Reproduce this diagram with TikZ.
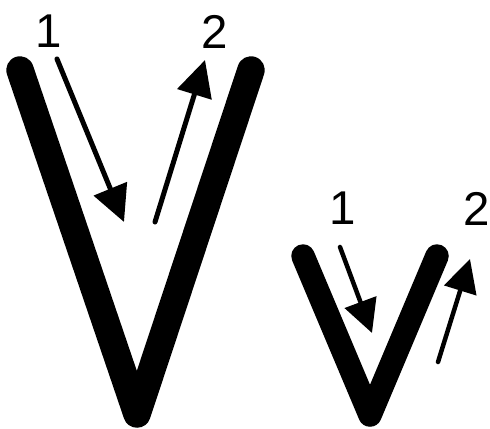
\documentclass[tikz,border=0pt]{standalone}
\usepackage{fontspec}
\setmainfont{Liberation Sans}
\usetikzlibrary{arrows.meta}

\begin{document}
\begin{tikzpicture}[
  x=0.02cm, y=-0.02cm,
  every node/.style={font=\fontsize{27}{27}\selectfont, inner sep=0pt},
  stroke/.style={line width=0.55cm, line cap=round, line join=round},
  small stroke/.style={line width=0.47cm, line cap=round, line join=round},
  motion/.style={line width=0.1cm, line cap=round, -{Triangle[length=0.72cm, width=0.7cm]}},
  small motion/.style={line width=0.09cm, line cap=round, -{Triangle[length=0.66cm, width=0.66cm]}}
]
\useasboundingbox (0,0) rectangle (490,429);

% big V
\draw[stroke] (20,70) -- (137,414) -- (251,70);
\node (big one) at (49,31) {1};
\node (big two) at (215,32) {2};
\coordinate (big down start) at (57,59);
\coordinate (big down end) at (124,222);
\coordinate (big up start) at (155,222);
\coordinate (big up end) at (205,60);
\draw[motion] (big down start) -- (big down end);
\draw[motion] (big up start) -- (big up end);

% small v
\draw[small stroke] (303,256) -- (370,415) -- (437,256);
\node (small one) at (343,208) {1};
\node (small two) at (477,209) {2};
\coordinate (small down start) at (340,247);
\coordinate (small down end) at (372,333);
\coordinate (small up start) at (438,362);
\coordinate (small up end) at (470,259);
\draw[small motion] (small down start) -- (small down end);
\draw[small motion] (small up start) -- (small up end);
\end{tikzpicture}
\end{document}
